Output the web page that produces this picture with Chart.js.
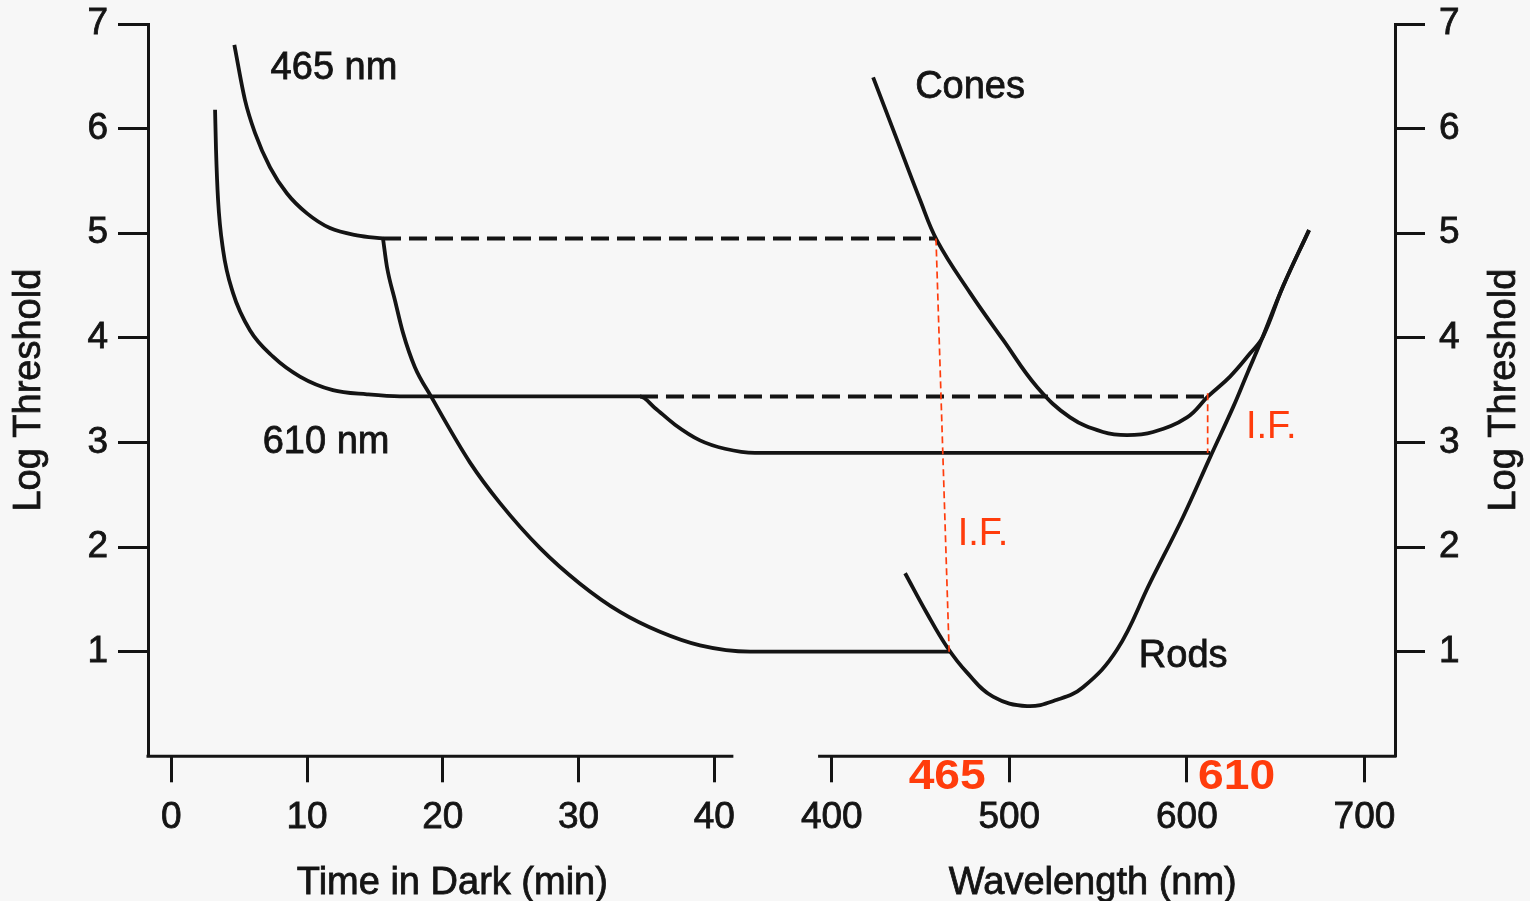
<!DOCTYPE html>
<html>
<head>
<meta charset="utf-8">
<title>Dark adaptation and spectral sensitivity</title>
<script src="https://cdn.jsdelivr.net/npm/chart.js@4.4.1/dist/chart.umd.min.js"></script>
<style>
  html, body { margin: 0; padding: 0; background: #f7f7f7; }
  #wrap { width: 1530px; height: 901px; }
</style>
</head>
<body>
<div id="wrap"><canvas id="chart" width="1530" height="901"></canvas></div>
<script>
'use strict';

// dark adaptation: minutes in the dark vs log threshold
const coneTime465 = [4.64, 5.43, 6.16, 7.27, 8.52, 9.99, 11.68, 13.67, 15.59];
const coneLog465 = [6.80, 6.27, 5.96, 5.63, 5.38, 5.19, 5.05, 4.98, 4.95];
const rodTime465 = [15.59, 15.88, 16.47, 17.06, 17.94, 19.13, 21.99, 24.21, 27.16, 30.1, 33.05, 35.99, 38.94, 42.63, 57.36];
const rodLog465 = [4.95, 4.68, 4.36, 4.05, 3.72, 3.44, 2.81, 2.42, 1.99, 1.65, 1.38, 1.19, 1.06, 1.0, 1.0];
const time610 = [3.22, 3.29, 3.44, 3.81, 4.54, 5.80, 7.49, 9.47, 11.9, 14.41, 16.84, 34.52, 35.62, 37.1, 38.94, 40.78, 42.99, 76.52];
const log610 = [6.18, 5.80, 5.32, 4.84, 4.43, 4.07, 3.82, 3.63, 3.50, 3.46, 3.44, 3.44, 3.33, 3.17, 3.02, 2.94, 2.90, 2.90];

// cone plateaus carried over to the spectral curves (dashed)
const plateauTime465 = [15.59, 56.33];
const plateauLog465 = [4.95, 4.95];
const plateauTime610 = [34.52, 76.37];
const plateauLog610 = [3.44, 3.44];

// spectral sensitivity: wavelength vs log threshold
const coneWave = [423.3, 435.7, 449.7, 459.3, 477.9, 496.5, 515.6, 534.2, 552.8, 566.3, 581.0, 600.1, 611.9, 624.3, 635.5, 642.8, 654.1, 668.8];
const coneLog = [6.49, 5.94, 5.32, 4.93, 4.43, 3.98, 3.53, 3.24, 3.10, 3.07, 3.10, 3.24, 3.44, 3.63, 3.85, 4.01, 4.49, 5.03];
const rodWave = [441.3, 453.5, 464.9, 476.2, 490.8, 510.0, 526.9, 541.5, 560.7, 579.3, 597.9, 613.1, 626.1, 634.0, 641.3, 654.1, 668.8];
const rodLog = [1.75, 1.37, 1.045, 0.80, 0.57, 0.48, 0.54, 0.66, 1.02, 1.66, 2.29, 2.86, 3.34, 3.66, 3.95, 4.49, 5.03];

// I.F. gaps at the two test wavelengths
const gapWave465 = [458.7, 466.1];
const gapLog465 = [4.95, 1.0];
const gapWave610 = [611.7, 611.7];
const gapLog610 = [3.47, 2.90];

const timeTicks = [0, 10, 20, 30, 40];
const waveTicks = [400, 500, 600, 700];
const logTicks = [1, 2, 3, 4, 5, 6, 7];

const timeNotes = [
  { text: '465 nm', x: 11.98, y: 6.57 },
  { text: '610 nm', x: 11.4, y: 3.0 }
];
const waveNotes = [
  { text: 'Cones', x: 477.9, y: 6.39 },
  { text: 'Rods', x: 597.9, y: 0.955 },
  { text: 'I.F.', x: 647.5, y: 3.14, red: true },
  { text: 'I.F.', x: 485.2, y: 2.12, red: true }
];
const waveMarks = [
  { text: '465', x: 465 },
  { text: '610', x: 628 }
];

// plot frame; the two x axes share the bottom edge side by side
const W = 1530, H = 901;
const PLOT_LEFT = 148, PLOT_RIGHT = 1395, PLOT_TOP = 24, PLOT_BOTTOM = 756.3;
const TIME_MIN = -1.72, TIME_MAX = 44.54, TIME_AXIS_END = 41.4, TIME_SPAN_PX = 628;
const WAVE_MIN = 368.6, WAVE_MAX = 717.2, WAVE_AXIS_START = 392.3, WAVE_SPAN_PX = 619;

const FONT = '"Liberation Sans", Arial, Helvetica, sans-serif';
const INK = '#141414';
const RED = '#ff3c0c';

const pts = (xs, ys) => xs.map((x, i) => ({ x, y: ys[i] }));

// lines cross from one panel into the other, so no per-scale clipping
function line(data, xAxisID, extra) {
  return Object.assign({
    data, xAxisID, yAxisID: 'y', clip: false,
    borderColor: INK, borderWidth: 3.8,
    pointRadius: 0, pointHoverRadius: 0, fill: false,
    cubicInterpolationMode: 'monotone'
  }, extra || {});
}

const dashedBlack = { borderDash: [18, 8], borderWidth: 4 };
const dashedRed = { borderColor: RED, borderDash: [7, 4], borderWidth: 1.7 };
const smooth = { cubicInterpolationMode: 'default', tension: 0.4 };

const datasets = [
  line(pts(gapWave465, gapLog465), 'xw', dashedRed),
  line(pts(gapWave610, gapLog610), 'xw', dashedRed),
  line(pts(coneTime465, coneLog465), 'x'),
  line(pts(rodTime465, rodLog465), 'x'),
  line(pts(time610, log610), 'x'),
  line(pts(plateauTime465, plateauLog465), 'x', dashedBlack),
  line(pts(plateauTime610, plateauLog610), 'x', dashedBlack),
  line(pts(coneWave, coneLog), 'xw', smooth),
  line(pts(rodWave, rodLog), 'xw', smooth)
];

const tickFont = { family: FONT, size: 37 };
const tickText = { font: tickFont, color: INK, textStrokeColor: INK, textStrokeWidth: 0.8 };

function xScale(min, max, ticks, span) {
  return {
    type: 'linear', position: 'bottom', stack: 'bottom', stackWeight: span, min, max,
    afterBuildTicks: s => { s.ticks = ticks.map(value => ({ value })); },
    afterFit: s => { s.height = H - PLOT_BOTTOM; s.paddingLeft = 0; s.paddingRight = 0; },
    border: { display: false },
    grid: { drawOnChartArea: false, drawTicks: true, tickLength: 26, tickWidth: 3, tickColor: INK },
    ticks: Object.assign({ padding: 13, maxRotation: 0, autoSkip: false }, tickText)
  };
}

function yScale(position, width, padding) {
  return {
    type: 'linear', position, min: 0, max: 7,
    afterBuildTicks: s => { s.ticks = logTicks.map(value => ({ value })); },
    afterFit: s => { s.width = width; s.paddingTop = 0; s.paddingBottom = 0; },
    border: { display: true, width: 3, color: INK },
    grid: { drawOnChartArea: false, drawTicks: true, tickLength: 30, tickWidth: 3, tickColor: INK },
    ticks: Object.assign({ padding }, tickText)
  };
}

function inkText(ctx, text, x, y) {
  ctx.fillText(text, x, y);
  ctx.strokeText(text, x, y);
}

const panelText = {
  id: 'panelText',
  afterDraw(chart) {
    const { ctx, chartArea, scales } = chart;
    const { x, xw, y } = scales;
    const midY = (chartArea.top + chartArea.bottom) / 2;
    ctx.save();

    // the two separate horizontal axis lines
    ctx.strokeStyle = INK;
    ctx.lineWidth = 3;
    ctx.beginPath();
    ctx.moveTo(chartArea.left - 1.5, chartArea.bottom);
    ctx.lineTo(x.getPixelForValue(TIME_AXIS_END), chartArea.bottom);
    ctx.moveTo(xw.getPixelForValue(WAVE_AXIS_START), chartArea.bottom);
    ctx.lineTo(chartArea.right + 1.5, chartArea.bottom);
    ctx.stroke();

    ctx.fillStyle = INK;
    ctx.lineWidth = 0.8;
    ctx.font = '38px ' + FONT;
    ctx.textAlign = 'center';
    ctx.textBaseline = 'alphabetic';
    inkText(ctx, 'Time in Dark (min)', x.getPixelForValue(20.7), 894);
    inkText(ctx, 'Wavelength (nm)', xw.getPixelForValue(547), 894);

    // vertical titles, both reading upwards
    ctx.textBaseline = 'middle';
    [30, 1505].forEach(cx => {
      ctx.save();
      ctx.translate(cx, midY);
      ctx.rotate(-Math.PI / 2);
      inkText(ctx, 'Log Threshold', 0, 0);
      ctx.restore();
    });

    const note = (n, scale) => {
      const px = scale.getPixelForValue(n.x), py = y.getPixelForValue(n.y);
      if (n.red) {
        ctx.fillStyle = RED;
        ctx.fillText(n.text, px, py);
      } else {
        ctx.fillStyle = INK;
        inkText(ctx, n.text, px, py);
      }
    };
    timeNotes.forEach(n => note(n, x));
    waveNotes.forEach(n => note(n, xw));

    ctx.fillStyle = RED;
    ctx.font = 'bold 42px ' + FONT;
    waveMarks.forEach(m => {
      ctx.save();
      ctx.translate(xw.getPixelForValue(m.x), chartArea.bottom + 21);
      ctx.scale(1.1, 1);
      ctx.fillText(m.text, 0, 0);
      ctx.restore();
    });
    ctx.restore();
  }
};

new Chart(document.getElementById('chart'), {
  type: 'line',
  data: { datasets },
  options: {
    responsive: false,
    devicePixelRatio: 1,
    animation: false,
    layout: { padding: { top: PLOT_TOP, left: 0, right: 0, bottom: 0 } },
    plugins: { legend: { display: false }, tooltip: { enabled: false } },
    scales: {
      x: xScale(TIME_MIN, TIME_MAX, timeTicks, TIME_SPAN_PX),
      xw: xScale(WAVE_MIN, WAVE_MAX, waveTicks, WAVE_SPAN_PX),
      y: yScale('left', PLOT_LEFT, 10),
      y2: yScale('right', W - PLOT_RIGHT, 14)
    }
  },
  plugins: [panelText]
});
</script>
</body>
</html>
